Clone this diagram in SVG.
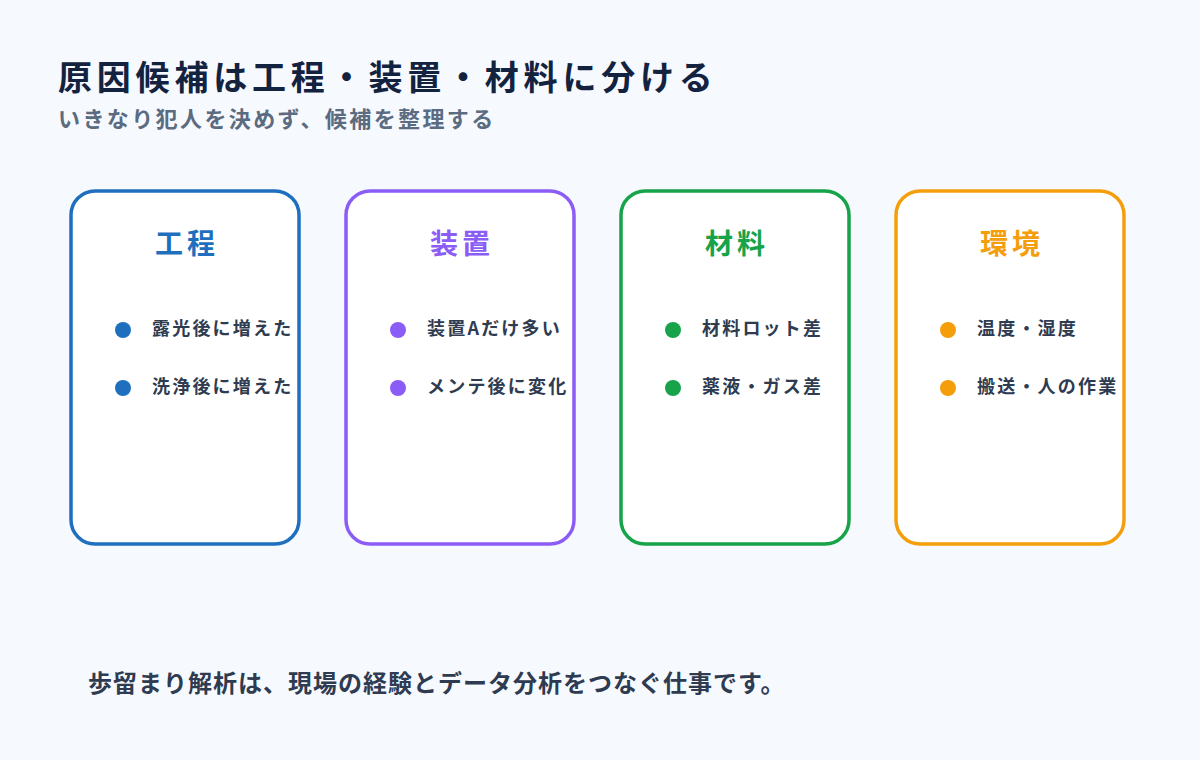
<svg xmlns="http://www.w3.org/2000/svg" width="1200" height="760" viewBox="0 0 1200 760">
<style>
text{font-family:"Noto Sans CJK JP","Noto Sans",sans-serif;font-weight:700}
.title{font-size:34px;fill:#13233f;letter-spacing:4.8px}
.sub{font-size:22px;fill:#5b6b80;letter-spacing:2.4px}
.card{fill:#ffffff;stroke-width:3.5}
.ct{font-size:28px;text-anchor:middle;letter-spacing:4px}
.item{font-size:18px;fill:#2e3b50;letter-spacing:2.2px}
.foot{font-size:24px;fill:#2e3b50;letter-spacing:1px}
</style>
<rect width="1200" height="760" fill="#f6f9fe"/>
<text class="title" x="58" y="90">原因候補は工程・装置・材料に分ける</text>
<text class="sub" x="58" y="127">いきなり犯人を決めず、候補を整理する</text>
<g id="card-process">
<rect class="card" x="71" y="191" width="228" height="353" rx="24" stroke="#1f6fbf"/>
<text class="ct" x="187" y="254" fill="#1f6fbf">工程</text>
<circle cx="123" cy="330" r="8" fill="#1f6fbf"/>
<text class="item" x="152" y="335">露光後に増えた</text>
<circle cx="123" cy="388" r="8" fill="#1f6fbf"/>
<text class="item" x="152" y="393">洗浄後に増えた</text>
</g>
<g id="card-equipment">
<rect class="card" x="346" y="191" width="228" height="353" rx="24" stroke="#8b5cf6"/>
<text class="ct" x="462" y="254" fill="#8b5cf6">装置</text>
<circle cx="398" cy="330" r="8" fill="#8b5cf6"/>
<text class="item" x="427" y="335">装置Aだけ多い</text>
<circle cx="398" cy="388" r="8" fill="#8b5cf6"/>
<text class="item" x="427" y="393">メンテ後に変化</text>
</g>
<g id="card-material">
<rect class="card" x="621" y="191" width="228" height="353" rx="24" stroke="#16a34a"/>
<text class="ct" x="737" y="254" fill="#16a34a">材料</text>
<circle cx="673" cy="330" r="8" fill="#16a34a"/>
<text class="item" x="702" y="335">材料ロット差</text>
<circle cx="673" cy="388" r="8" fill="#16a34a"/>
<text class="item" x="702" y="393">薬液・ガス差</text>
</g>
<g id="card-environment">
<rect class="card" x="896" y="191" width="228" height="353" rx="24" stroke="#f59e0b"/>
<text class="ct" x="1012" y="254" fill="#f59e0b">環境</text>
<circle cx="948" cy="330" r="8" fill="#f59e0b"/>
<text class="item" x="977" y="335">温度・湿度</text>
<circle cx="948" cy="388" r="8" fill="#f59e0b"/>
<text class="item" x="977" y="393">搬送・人の作業</text>
</g>
<g id="connectors"/>
<text class="foot" x="88" y="692">歩留まり解析は、現場の経験とデータ分析をつなぐ仕事です。</text>
</svg>
